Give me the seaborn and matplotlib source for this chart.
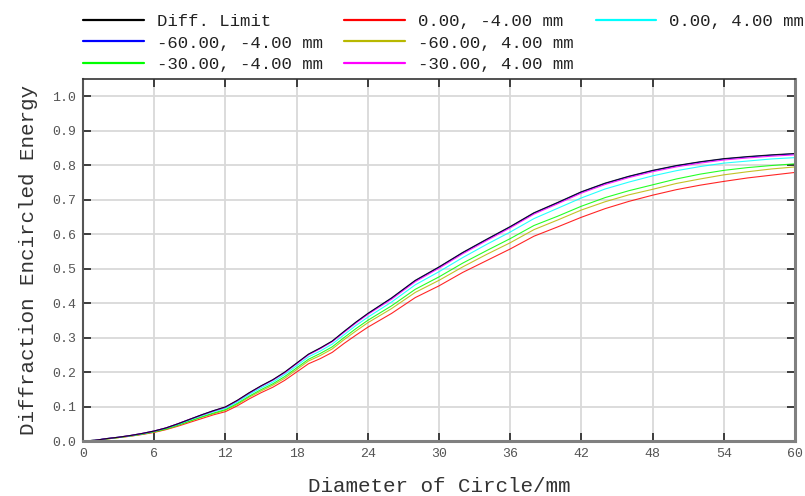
import matplotlib
matplotlib.use("Agg")
import matplotlib.pyplot as plt
from matplotlib.lines import Line2D
import seaborn as sns
import pandas as pd
import numpy as np

# ---- data ----
diameter = [0, 1, 2, 3, 4, 5, 6, 7, 8, 9, 10, 11, 12, 13, 14, 15, 16, 17, 18, 19, 20,
            21, 22, 23, 24, 26, 28, 30, 32, 34, 36, 38, 40, 42, 44, 46, 48, 50, 52,
            54, 56, 58, 60]

diff_limit = [0, .002, .007, .011, .016, .022, .029, .038, .050, .063, .076, .088, .099, .118,
              .140, .160, .178, .200, .226, .252, .270, .290, .318, .345, .370, .415, .466,
              .505, .547, .585, .622, .662, .692, .723, .748, .768, .785, .799, .810, .819,
              .825, .830, .834]
f_0_m4 = [0, .002, .006, .010, .014, .019, .025, .033, .043, .054, .065, .076, .085, .102,
          .122, .140, .156, .176, .200, .224, .239, .257, .283, .307, .330, .370, .416,
          .450, .489, .523, .557, .594, .621, .649, .674, .695, .713, .729, .742, .753,
          .763, .771, .779]
f_0_p4 = [0, .002, .007, .011, .015, .021, .028, .037, .048, .061, .073, .085, .095, .113,
          .135, .154, .171, .193, .218, .244, .261, .281, .308, .335, .359, .403, .453,
          .491, .532, .570, .606, .645, .675, .705, .731, .751, .769, .784, .796, .806,
          .812, .818, .822]
f_m60_m4 = [0, .002, .007, .011, .016, .022, .029, .038, .050, .063, .076, .088, .098, .117,
            .139, .159, .177, .199, .225, .251, .269, .289, .317, .344, .369, .414, .465,
            .504, .546, .584, .621, .661, .691, .722, .747, .767, .784, .798, .809, .818,
            .824, .829, .833]
f_m60_p4 = [0, .002, .006, .010, .014, .020, .026, .034, .045, .057, .069, .079, .089, .106,
            .127, .145, .162, .182, .207, .232, .248, .267, .294, .319, .343, .384, .431,
            .466, .505, .541, .575, .613, .641, .670, .694, .714, .730, .747, .760, .772,
            .781, .789, .795]
f_m30_m4 = [0, .002, .006, .010, .015, .020, .027, .035, .046, .058, .070, .081, .091, .109,
            .130, .149, .166, .187, .212, .237, .254, .273, .300, .326, .350, .392, .440,
            .476, .516, .552, .587, .625, .652, .681, .706, .726, .743, .760, .774, .785,
            .793, .799, .804]
f_m30_p4 = [0, .002, .007, .011, .016, .022, .029, .038, .050, .063, .075, .087, .098, .117,
            .139, .159, .177, .198, .224, .250, .268, .288, .315, .342, .367, .411, .462,
            .501, .543, .581, .618, .658, .688, .719, .744, .764, .781, .795, .806, .815,
            .821, .826, .830]

series_labels = ["Diff. Limit", "0.00, -4.00 mm", "0.00, 4.00 mm", "-60.00, -4.00 mm",
                 "-60.00, 4.00 mm", "-30.00, -4.00 mm", "-30.00, 4.00 mm"]
series_values = [diff_limit, f_0_m4, f_0_p4, f_m60_m4, f_m60_p4, f_m30_m4, f_m30_p4]
series_colors = ["#000000", "#ff0000", "#00ffff", "#0000ff", "#b8b800", "#00ff00", "#ff00ff"]
# drawing order so the top group looks like the reference (black on top)
draw_order = [1, 4, 5, 2, 3, 6, 0]

x_ticks = [0, 6, 12, 18, 24, 30, 36, 42, 48, 54, 60]
y_ticks = [0.0, 0.1, 0.2, 0.3, 0.4, 0.5, 0.6, 0.7, 0.8, 0.9, 1.0]

rows = []
for lab, vals in zip(series_labels, series_values):
    for xv, yv in zip(diameter, vals):
        rows.append({"Diameter": xv, "EE": yv, "Field": lab})
df = pd.DataFrame(rows)

sns.set_theme(style="whitegrid")
plt.rcParams["font.family"] = ["Liberation Mono", "DejaVu Sans Mono"]

fig = plt.figure(figsize=(8.05, 4.96), dpi=100)
ax = fig.add_axes([83 / 805, (496 - 441) / 496, (795 - 83) / 805, (441 - 79) / 496])
ax.set_facecolor("white")

hue_order = [series_labels[i] for i in draw_order]
pal = {series_labels[i]: series_colors[i] for i in range(len(series_labels))}
sns.lineplot(data=df, x="Diameter", y="EE", hue="Field", hue_order=hue_order,
             palette=pal, linewidth=0.8, alpha=0.85, legend=False, ax=ax,
             estimator=None, sort=False)

ax.set_xlim(0, 60)
ax.set_ylim(0, 1.05)
ax.set_xticks(x_ticks)
ax.set_xticklabels([str(t) for t in x_ticks])
ax.set_yticks(y_ticks)
ax.set_yticklabels([f"{t:.1f}" for t in y_ticks])
ax.grid(True, color="#d9d9d9", linewidth=1.3)
ax.set_axisbelow(True)

ax.tick_params(axis="both", which="both", direction="in", length=6, width=1.2,
               color="#222222", labelsize=9.5, labelcolor="#555555",
               top=True, right=True, bottom=True, left=True, pad=5)

for side in ["left", "bottom", "right"]:
    ax.spines[side].set_color("#808080")
    ax.spines[side].set_linewidth(2.2)
ax.spines["left"].set_color("#555555")
ax.spines["left"].set_linewidth(1.5)
ax.spines["top"].set_color("#333333")
ax.spines["top"].set_linewidth(1.2)

ax.set_xlabel("Diameter of Circle/mm", fontsize=15, color="#333333", labelpad=12)
ax.set_ylabel("Diffraction Encircled Energy", fontsize=15, color="#333333", labelpad=10)

# legend: row-major appearance (3 columns of 3, last two blank)
handles = [Line2D([], [], color=c, linewidth=1.6) for c in series_colors]
blank = Line2D([], [], color="none")
col_order = [0, 3, 5, 1, 4, 6, 2]
leg_handles = [handles[i] for i in col_order] + [blank, blank]
leg_labels = [series_labels[i] for i in col_order] + ["", ""]
fig.legend(leg_handles, leg_labels, ncol=3, loc="upper left",
           bbox_to_anchor=(83 / 805, 1 - 14 / 496), frameon=False,
           fontsize=12.5, handlelength=3.5, handletextpad=0.75,
           columnspacing=1.25, labelspacing=0.36, borderpad=0, borderaxespad=0,
           labelcolor="#222222")

fig.savefig("out.png", dpi=100)
